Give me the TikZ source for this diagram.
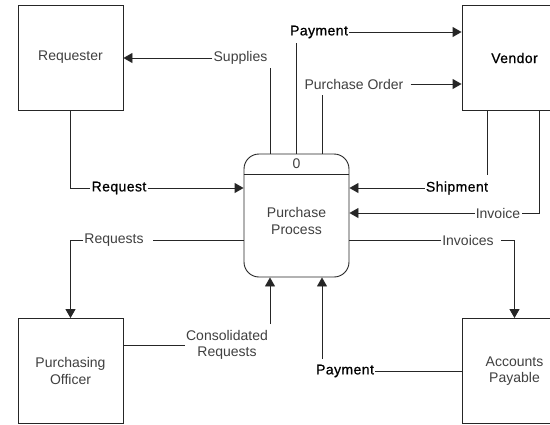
\documentclass[tikz,border=0pt]{standalone}
\usepackage{fontspec}
\setmainfont{Liberation Sans}
\newfontfamily\darkfont[FakeBold=0.7,LetterSpace=3]{Liberation Sans}
\usetikzlibrary{arrows.meta,calc}

\tikzset{
  entity/.style={draw=black!85, line width=0.9pt, minimum width=105pt, minimum height=105pt,
                 align=center, inner sep=0pt, text=black!75},
  process/.style={draw=black!85, line width=0.9pt, rounded corners=15pt,
                  minimum width=105pt, minimum height=123pt, inner sep=0pt},
  flowlabel/.style={inner sep=1pt, text=black!75, align=center},
  darklabel/.style={inner sep=1pt, text=black, font=\fontsize{14}{16.5}\darkfont},
  flow/.style={draw=black!85, line width=0.9pt},
  arrowflow/.style={flow, -{Triangle[length=9pt,width=10pt]}}
}

\begin{document}
\begin{tikzpicture}[x=1pt, y=-1pt, font=\fontsize{14}{16.5}\selectfont]
\clip (0,0) rectangle (550,424);
\fill[white] (0,0) rectangle (550,424);

% external entities
\node[entity] (req)    at (70.5,57.5)   {Requester};
\node[entity, text=black, font=\fontsize{14}{16.5}\darkfont] (vendor) at (514.5,58) {Vendor};
\node[entity] (po)     at (70.5,371)    {Purchasing\\Officer};
\node[entity] (ap)     at (514.5,371)   {Accounts\\Payable};

% the process
\node[process] (proc) at (296.5,215.5) {};
\draw[flow] ($(proc.north west)+(0,21)$) -- ($(proc.north east)+(0,21)$);
\node[flowlabel] (pnum)  at (296.5,164) {0};
\node[flowlabel] (pname) at (296.5,221) {Purchase\\Process};

% data flow labels
\node[flowlabel] (sup)  at (240.5,58)  {Supplies};
\node[darklabel] (pay1) at (319,32)    {Payment};
\node[flowlabel] (pord) at (354,84)    {Purchase Order};
\node[darklabel] (rq)   at (119,188)   {Request};
\node[darklabel] (ship) at (457,188)   {Shipment};
\node[flowlabel] (inv)  at (498,213)   {Invoice};
\node[flowlabel] (invs) at (468,240)   {Invoices};
\node[flowlabel] (rqs)  at (114,240)   {Requests};
\node[flowlabel] (cons) at (227,345)   {Consolidated\\Requests};
\node[darklabel] (pay2) at (345,371)   {Payment};

% bend points
\coordinate (supT)  at (270,68);
\coordinate (payT)  at (296,43);
\coordinate (poT)   at (322,95);
\coordinate (shT)   at (487,175);
\coordinate (invC)  at (539,213);
\coordinate (consT) at (270,324);
\coordinate (payB)  at (322,359);

% Supplies
\draw[flow] (supT |- proc.north) -- (supT);
\draw[arrowflow] (sup.west) -- (req.east |- sup);
% Payment to vendor
\draw[flow] (payT |- proc.north) -- (payT);
\draw[arrowflow] (pay1.east) -- (vendor.west |- pay1);
% Purchase Order
\draw[flow] (poT |- proc.north) -- (poT);
\draw[arrowflow] ([xshift=6pt]pord.east) -- (vendor.west |- pord);
% Request
\draw[flow] (req.south) |- (rq.west);
\draw[arrowflow] (rq.east) -- (proc.west |- rq);
% Shipment
\draw[flow] (shT |- vendor.south) -- (shT);
\draw[arrowflow] (ship.west) -- (proc.east |- ship);
% Invoice
\draw[flow] (invC |- vendor.south) -- (invC) -- ([xshift=1pt]inv.east);
\draw[arrowflow] (inv.west) -- (proc.east |- inv);
% Invoices
\draw[flow] (proc.east |- invs) -- (invs.west);
\draw[arrowflow] ([xshift=6pt]invs.east) -| (ap.north);
% Requests
\draw[flow] (proc.west |- rqs) -- ([xshift=8pt]rqs.east);
\draw[arrowflow] (rqs.west) -| (po.north);
% Consolidated Requests
\draw[flow] (po.east |- cons) -- (cons.west);
\draw[arrowflow] (consT) -- (consT |- proc.south);
% Payment from accounts payable
\draw[flow] (ap.west) -- (pay2.east);
\draw[arrowflow] (payB) -- (payB |- proc.south);
\end{tikzpicture}
\end{document}
